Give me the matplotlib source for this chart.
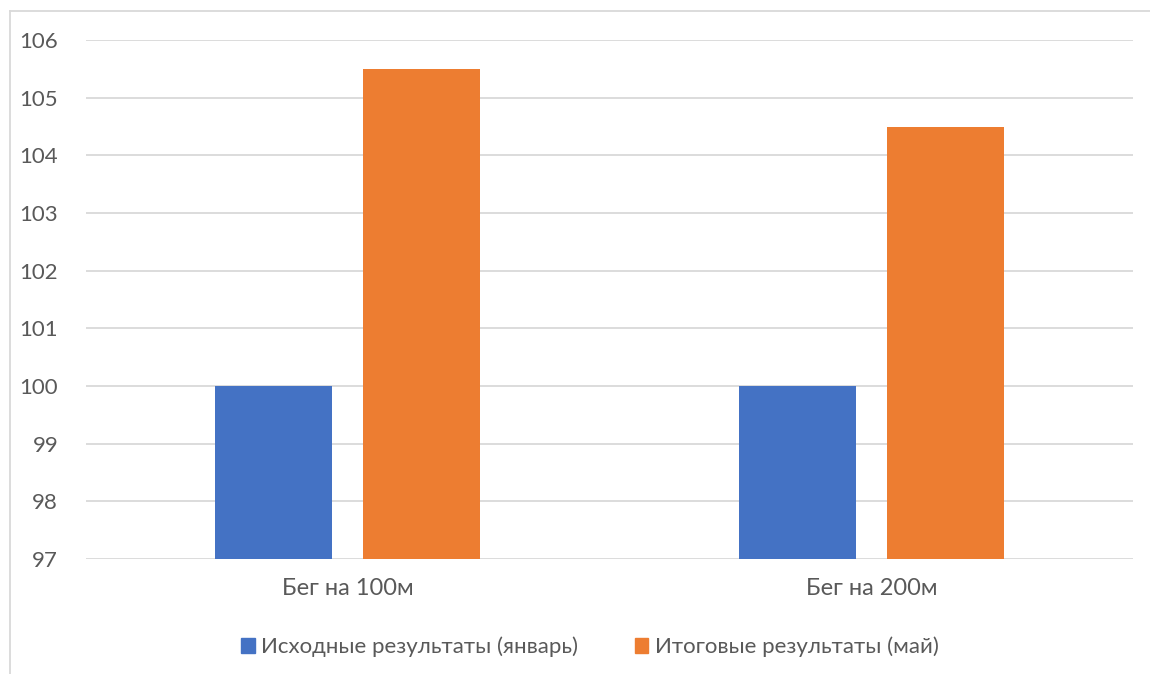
import numpy as np
import matplotlib
matplotlib.use("Agg")
from matplotlib import pyplot as plt
from matplotlib.lines import Line2D
from matplotlib.patches import Patch

categories = ["Бег на 100м", "Бег на 200м"]
series_names = ["Исходные результаты (январь)", "Итоговые результаты (май)"]
jan = [100, 100]
may = [105.5, 104.5]
colors = ["#4472C4", "#ED7D31"]

plt.rcParams['font.family'] = ['Lato', 'DejaVu Sans']

fig = plt.figure(figsize=(11.5, 6.74), dpi=100)
ax = fig.add_axes([86/1150, 1-559/674, (1133-86)/1150, (559-40)/674])

x = np.arange(len(categories))
w = 0.2235
off = 0.1418
base = 97
ax.bar(x - off, np.array(jan) - base, w, bottom=base, color=colors[0], zorder=3)
ax.bar(x + off, np.array(may) - base, w, bottom=base, color=colors[1], zorder=3)

ax.set_xlim(-0.5, 1.5)
ax.set_ylim(97, 106)
ax.set_yticks(np.arange(97, 107, 1))
ax.set_xticks(x)
ax.set_xticklabels(categories)
ax.grid(axis='y', color='#D9D9D9', linewidth=1.3, zorder=0)
for s in ax.spines.values():
    s.set_visible(False)
ax.tick_params(length=0, labelsize=16, colors='#595959')
ax.tick_params(axis='x', labelsize=17, pad=14)
ax.tick_params(axis='y', pad=20)

handles = [Patch(color=c) for c in colors]
fig.legend(handles, series_names, loc='center', bbox_to_anchor=(590/1150, 1-647/674),
           ncol=2, frameon=False, fontsize=16, labelcolor='#595959',
           handlelength=0.6, handleheight=0.6, handletextpad=0.3, columnspacing=2.55)

# outer chart border (top and left visible)
fig.add_artist(Line2D([10/1150, 10/1150], [0, 1-11/674], color='#D9D9D9', lw=1.3))
fig.add_artist(Line2D([10/1150, 1], [1-11/674, 1-11/674], color='#D9D9D9', lw=1.3))

fig.savefig("out.png", dpi=100)
